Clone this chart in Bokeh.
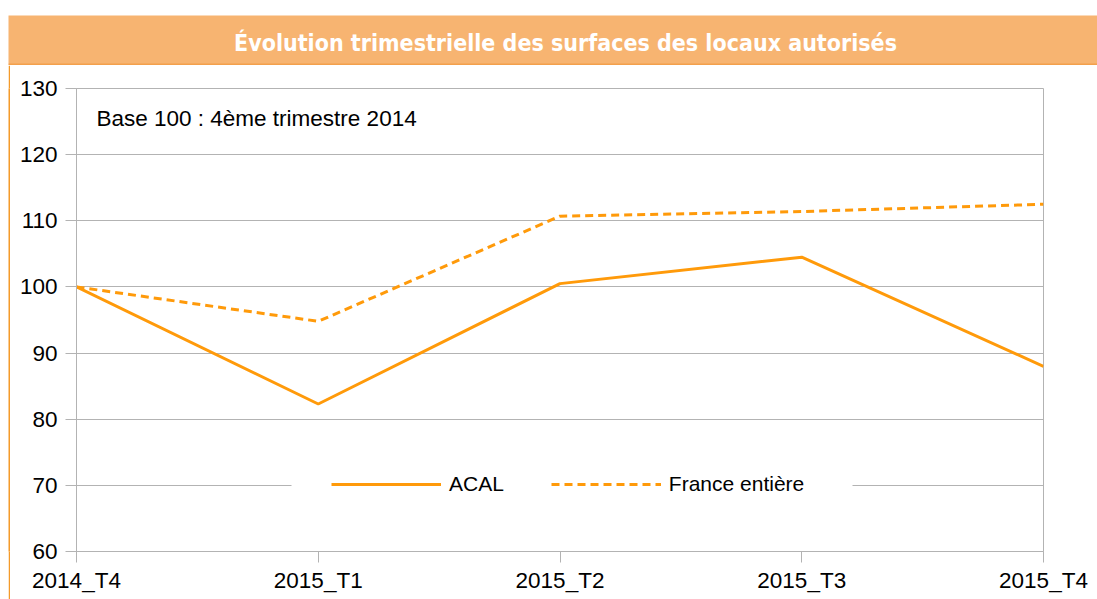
from bokeh.plotting import figure
from bokeh.layouts import column, row, Spacer
from bokeh.models import Range1d, Label, Legend, LegendItem, FixedTicker, Span, BoxAnnotation
from bokeh.embed import file_html
from bokeh.resources import INLINE

# ---- data ----
categories = ["2014_T4", "2015_T1", "2015_T2", "2015_T3", "2015_T4"]
acal = [100.0, 82.3, 100.5, 104.5, 88.0]
france = [100.0, 94.8, 110.7, 111.4, 112.5]
y_ticks = [60, 70, 80, 90, 100, 110, 120, 130]
series_names = ["ACAL", "France entière"]
title_text = "Évolution trimestrielle des surfaces des locaux autorisés"
note_text = "Base 100 : 4ème trimestre 2014"

ORANGE = "#FF9A0A"
GRID = "#B3B3B3"
FONT = "Liberation Sans"

# ---- title bar ----
top = figure(width=1097, height=65, output_backend="svg", toolbar_location=None,
             x_range=Range1d(0, 1), y_range=Range1d(0, 1),
             x_axis_type=None, y_axis_type=None,
             min_border_top=15, min_border_left=8, min_border_right=0, min_border_bottom=0)
top.grid.visible = False
top.outline_line_color = None
top.background_fill_color = "#F7B471"
top.border_fill_color = "white"
top.add_layout(Span(location=0.02, dimension="width", line_color="#F3A04C", line_width=2))
top.add_layout(Label(x=557, y=23, x_units="screen", y_units="screen", text=title_text,
                     text_align="center", text_baseline="middle", text_color="white",
                     text_font_style="bold", text_font_size="23px",
                     text_font="DejaVu Sans Condensed"))

# ---- left orange strip ----
STRIP = "#F49A2A"
strip = figure(width=2, height=534, output_backend="svg", toolbar_location=None,
               x_axis_type=None, y_axis_type=None,
               min_border_left=0, min_border_right=0,
               min_border_top=0, min_border_bottom=0)
strip.grid.visible = False
strip.outline_line_color = None
strip.background_fill_color = STRIP
strip.border_fill_color = STRIP

# ---- main chart ----
xs = list(range(len(categories)))
p = figure(width=1087, height=534, output_backend="svg", toolbar_location=None,
           x_range=Range1d(xs[0], xs[-1]), y_range=Range1d(y_ticks[0], y_ticks[-1]),
           min_border_left=66, min_border_right=54, min_border_top=23, min_border_bottom=48)
p.background_fill_color = "white"
p.border_fill_color = "white"
p.outline_line_color = GRID

r1 = p.line(xs, acal, line_color=ORANGE, line_width=3)
r2 = p.line(xs, france, line_color=ORANGE, line_width=3, line_dash="8 5")

p.xgrid.visible = False
p.ygrid.ticker = FixedTicker(ticks=y_ticks)
p.ygrid.grid_line_color = GRID

p.yaxis.ticker = FixedTicker(ticks=y_ticks)
p.xaxis.ticker = FixedTicker(ticks=xs)
p.xaxis.major_label_overrides = {i: c for i, c in zip(xs, categories)}
for ax in (p.xaxis, p.yaxis):
    ax.axis_line_color = GRID
    ax.major_tick_line_color = GRID
    ax.major_tick_out = 11
    ax.major_tick_in = 0
    ax.minor_tick_line_color = None
    ax.major_label_text_font = FONT
    ax.major_label_text_font_size = "22.5px"
    ax.major_label_text_color = "black"
p.yaxis.major_label_standoff = 8
p.xaxis.major_label_standoff = 5

p.add_layout(Label(x=20, y=433, x_units="screen", y_units="screen", text=note_text,
                   text_align="left", text_baseline="middle", text_color="black",
                   text_font=FONT, text_font_size="22.5px"))

# white gap behind the legend
p.add_layout(BoxAnnotation(left=215, right=776, bottom=58, top=76,
                           left_units="screen", right_units="screen",
                           bottom_units="screen", top_units="screen",
                           fill_color="white", fill_alpha=1.0, line_color=None,
                           level="underlay"))

legend = Legend(items=[LegendItem(label=series_names[0], renderers=[r1]),
                       LegendItem(label=series_names[1], renderers=[r2])],
                orientation="horizontal", location=(255, 55),
                glyph_width=110, glyph_height=20, label_standoff=8, spacing=47,
                padding=0, margin=0, border_line_color=None,
                background_fill_color="white", background_fill_alpha=1.0,
                label_text_font=FONT, label_text_font_size="21px",
                label_text_color="black")
p.add_layout(legend, "center")

layout = column(top, row(Spacer(width=8, height=534), strip, p, spacing=0), spacing=0)
open("out.html", "w").write(file_html(layout, INLINE))
